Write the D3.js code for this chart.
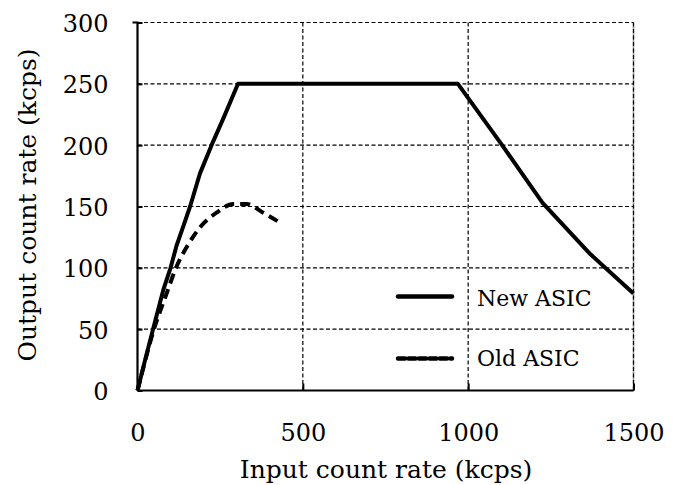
<!DOCTYPE html>
<html><head><meta charset="utf-8">
<script src="https://cdn.jsdelivr.net/npm/d3@7"></script>
<style>
body{margin:0;background:#fff;}
</style></head>
<body><svg id="c" width="673" height="485"></svg>
<script>
const newX = [0, 25, 50, 78, 100, 118, 140, 159, 189, 224, 260, 304, 969, 1100, 1225, 1370, 1500];
const newY = [0, 27, 53, 82, 100, 118, 135, 150, 177, 200, 222, 250, 250, 201, 153, 111, 79];
const oldX = [0, 50, 88, 118, 149, 189, 239, 290, 330, 380, 430];
const oldY = [0, 50, 79, 101, 117, 133, 145, 152, 152, 145, 137];
const xTicks = [0, 500, 1000, 1500];
const yTicks = [0, 50, 100, 150, 200, 250, 300];
const seriesNames = ["New ASIC", "Old ASIC"];
const xTitle = "Input count rate (kcps)";
const yTitle = "Output count rate (kcps)";

const FONT = "'DejaVu Serif', serif";
const svg = d3.select("#c").attr("font-family", FONT);
const x = d3.scaleLinear().domain([0, 1500]).range([137.5, 633.5]);
const y = d3.scaleLinear().domain([0, 300]).range([390.5, 22.5]);

svg.append("line").attr("x1", x(1500)).attr("x2", x(1500)).attr("y1", y(300)).attr("y2", y(0))
  .attr("stroke", "#999").attr("stroke-width", 1.5);

const grid = svg.append("g");
grid.selectAll("line.h").data(yTicks.filter(d => d > 0)).enter().append("line")
  .attr("x1", x(0)).attr("x2", x(1500)).attr("y1", d => y(d)).attr("y2", d => y(d))
  .attr("stroke", "#000").attr("stroke-width", 1.2).attr("stroke-dasharray", "4,2.5");
grid.selectAll("line.v").data(xTicks.filter(d => d > 0)).enter().append("line")
  .attr("x1", d => x(d)).attr("x2", d => x(d)).attr("y1", y(300)).attr("y2", y(0))
  .attr("stroke", "#000").attr("stroke-width", 1.2).attr("stroke-dasharray", "4,2.5");

const yAxis = d3.axisLeft(y).tickValues(yTicks).tickSize(-5).tickPadding(29).tickFormat(d3.format("d"));
const gy = svg.append("g").attr("transform", `translate(${x(0)},0)`).call(yAxis);
gy.attr("font-family", FONT).attr("font-size", 24);
gy.select(".domain").attr("stroke-width", 2.2).attr("d", `M-5,${y(300)}H0V${y(0)}`);
gy.selectAll(".tick line").attr("stroke-width", 2);
gy.selectAll(".tick text").attr("dy", "0.38em").attr("fill", "#000");

const xAxis = d3.axisBottom(x).tickValues(xTicks).tickSize(-7).tickPadding(50).tickFormat(d3.format("d"));
const gx = svg.append("g").attr("transform", `translate(0,${y(0)})`).call(xAxis);
gx.attr("font-family", FONT).attr("font-size", 24);
gx.select(".domain").attr("stroke-width", 2.2).attr("d", `M${x(0)},0H${x(1500)}`);
gx.selectAll(".tick line").attr("stroke-width", 2);
gx.selectAll(".tick text").attr("dy", "0").attr("fill", "#000");

svg.append("text").attr("x", 386).attr("y", 478).attr("text-anchor", "middle")
  .attr("font-size", 25).text(xTitle);
svg.append("text").attr("transform", "translate(36,205) rotate(-90)").attr("text-anchor", "middle")
  .attr("font-size", 25).text(yTitle);

const line = d3.line().x(d => x(d[0])).y(d => y(d[1]));
const newData = newX.map((v, i) => [v, newY[i]]);
const oldData = oldX.map((v, i) => [v, oldY[i]]);
svg.append("path").datum(newData).attr("d", line).attr("fill", "none")
  .attr("stroke", "#000").attr("stroke-width", 4).attr("stroke-linejoin", "round");
svg.append("path").datum(oldData).attr("d", line.curve(d3.curveMonotoneX)).attr("fill", "none")
  .attr("stroke", "#000").attr("stroke-width", 4).attr("stroke-dasharray", "10,6");

const leg = [{name: seriesNames[0], dash: null, ly: 296.5, ty: 306}, {name: seriesNames[1], dash: "7,3.5", ly: 358.5, ty: 366}];
leg.forEach(l => {
  svg.append("line").attr("x1", 398).attr("x2", 452).attr("y1", l.ly).attr("y2", l.ly)
    .attr("stroke", "#000").attr("stroke-width", 4.5).attr("stroke-linecap", "round")
    .attr("stroke-dasharray", l.dash);
  svg.append("text").attr("x", 477).attr("y", l.ty).attr("font-size", 22).text(l.name);
});
</script></body></html>
